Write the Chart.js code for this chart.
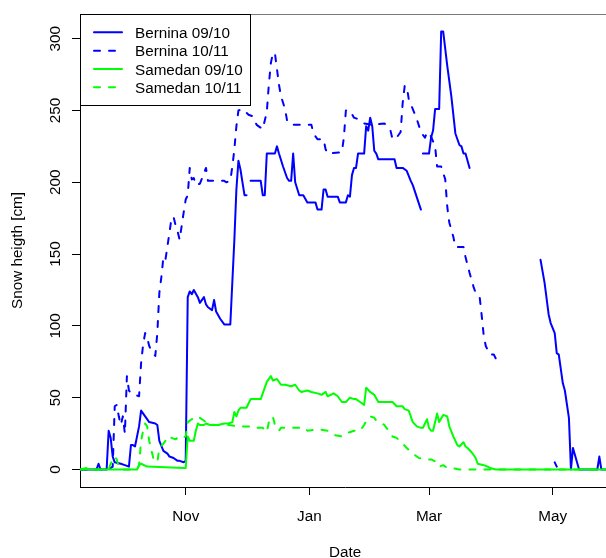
<!DOCTYPE html>
<html><head><meta charset="utf-8">
<script src="https://cdn.jsdelivr.net/npm/chart.js@4"></script>
<style>html,body{margin:0;padding:0;overflow:hidden;background:#fff}#wrap{width:610px;height:558px}</style>
</head><body><div id="wrap"><canvas id="c" width="610" height="558"></canvas></div>
<script>
// x values are days since 1 September of the season
const seriesLabels = ['Bernina 09/10', 'Bernina 10/11', 'Samedan 09/10', 'Samedan 10/11'];
const tickDays = [61, 122, 181, 242];
const tickLabels = ['Nov', 'Jan', 'Mar', 'May'];
const yTicks = [0, 50, 100, 150, 200, 250, 300];

const bernina0910Days = [9,17,18,19,22,23,24,25,26,29,31,33,34,35,36,38,39,41,43,46,47,48,50,52,53,55,57,58,60,61,62,63,64,65,67,68,70,71,72,74,75,76,78,80,83,85,86,87,88,89,90,91,92,93,98,99,100,101,105,106,107,109,111,112,113,114,115,117,119,121,125,126,128,129,130,131,136,137,140,141,142,143,144,145,146,149,150,151,152,153,154,155,156,164,165,168,170,172,173,177,177.5,178,181,182,183,184,186,187,188,190,192,194,196,197,198,199,201,202,236,238,240,241,243,244,245,247,248,250,251,252,255,264,265,266,271];
const bernina0910Vals = [0,0,4,0,0,27,22,9,5,4,3,2,17,17,16,30,41,37,33,32,31,20,13,11,9,8,6,6,5,6,120,124,122,125,120,116,120,115,113,111,118,110,105,101,101,160,195,215,209,200,191,191,null,201,201,191,191,220,220,225,220,211,203,201,201,220,200,191,191,186,186,181,181,195,195,190,190,186,186,191,190,205,210,210,220,220,239,236,245,239,222,220,216,216,210,210,208,201,198,181,null,220,220,231,236,251,251,305,305,281,260,234,226,225,220,220,210,null,146,130,108,102,95,81,80,60,55,36,0,15,0,0,9,0,0];

const bernina1011Days = [9,23,25,26,27,28,29,30,31,32,33,34,38,39,40,41,42,43,44,46,47,48,49,50,51,53,54,55,56,57,58,60,61,62,63,64,65,66,68,71,72,80,81,83,84,85,86,87,89,92,94,96,99,101,102,103,104,105,106,107,108,110,111,113,123,124,126,129,130,131,138,139,140,142,144,146,149,153,159,162,163,165,167,168,169,170,171,173,175,177,179,180,182,184,185,187,189,190,191,193,194,198,199,201,203,204,206,207,208,209,211,213,214,215,243,244];
const bernina1011Vals = [0,0,2,44,45,37,31,37,25,65,55,53,51,74,87,95,92,86,83,79,95,123,134,148,146,165,175,176,170,166,160,179,188,191,210,202,203,198,199,210,201,201,200,201,211,223,239,250,251,247,246,240,237,249,268,283,290,290,279,268,260,251,243,240,240,234,230,230,223,220,221,231,250,250,245,244,241,240,241,236,230,231,235,255,267,267,258,251,244,235,231,235,232,225,211,211,202,183,172,162,155,155,148,137,127,123,120,107,93,86,80,80,77,null,5,2];

const samedan0910Days = [9,12,13,37,38,39,42,60,61,62,63,65,66,67,68,70,71,73,77,80,82,84,85,86,87,88,91,93,98,101,103,104,106,108,110,113,115,117,118,121,123,126,128,130,131,134,136,138,140,142,144,145,147,149,150,152,154,156,163,165,168,169,171,173,175,177,178,180,181,182,183,185,186,188,190,191,193,195,196,198,199,200,202,204,205,208,210,211,214,271];
const samedan0910Vals = [0,1,0,0,3,4,2,1,1,23,20,20,27,32,31,31,32,31,31,32,32,33,40,37,41,43,43,49,49,61,65,62,63,59,59,58,59,55,54,55,54,53,52,54,51,53,51,47,47,50,49,49,47,45,57,54,52,47,47,44,44,42,41,33,30,29,29,35,29,27,27,39,33,38,37,30,23,17,16,19,16,15,12,8,4,3,2,1,0,0];

const samedan1011Days = [9,23,24,26,27,28,29,37,38,39,40,41,42,43,44,45,46,47,48,50,51,52,54,56,58,59,61,62,64,66,67,69,71,75,82,87,94,95,99,101,102,104,105,107,108,120,121,126,131,134,138,140,144,147,149,150,152,154,155,159,161,163,165,168,170,173,176,179,182,185,186,188,190,192,196,271];
const samedan1011Vals = [0,0,4,9,7,2,0,0,3,20,27,32,30,20,14,8,6,5,15,18,20,23,22,21,23,22,23,33,35,36,37,35,33,31,31,30,30,29,29,26,33,37,31,27,29,29,27,28,27,24,23,25,27,27,31,34,37,36,34,31,27,23,22,18,15,11,8,7,7,5,2,3,1,1,0,0];

const toPoints = (d, v) => d.map((x, i) => ({ x: x, y: v[i] }));
const FONT = '15.25px "Liberation Sans", Arial, sans-serif';

const rPlot = {
  id: 'rPlot',
  afterDraw(chart) {
    const ctx = chart.ctx, ca = chart.chartArea;
    const xs = chart.scales.x, ys = chart.scales.y;
    ctx.save();
    // top border of the box
    ctx.fillStyle = '#7a7a7a';
    ctx.fillRect(ca.left, ca.top, ca.right - ca.left, 1);
    ctx.fillStyle = '#000';
    ctx.font = FONT;
    // x tick labels
    ctx.textAlign = 'center';
    ctx.textBaseline = 'alphabetic';
    tickDays.forEach((d, i) => ctx.fillText(tickLabels[i], xs.getPixelForValue(d), 520.5));
    // x title
    ctx.fillText('Date', (ca.left + ca.right) / 2, 556.5);
    // y tick labels (rotated)
    yTicks.forEach(v => {
      ctx.save();
      ctx.translate(60, ys.getPixelForValue(v));
      ctx.rotate(-Math.PI / 2);
      ctx.fillText(String(v), 0, 0);
      ctx.restore();
    });
    // y title
    ctx.save();
    ctx.translate(22, (ca.top + ca.bottom) / 2);
    ctx.rotate(-Math.PI / 2);
    ctx.fillText('Snow heigth [cm]', 0, 0);
    ctx.restore();
    // legend
    const lx = ca.left, ly = ca.top, lw = 170, lh = 91;
    ctx.fillStyle = '#fff';
    ctx.fillRect(lx, ly, lw, lh);
    ctx.strokeStyle = '#000';
    ctx.lineWidth = 1;
    ctx.strokeRect(lx + 0.5, ly + 0.5, lw, lh);
    const rows = [32.3, 50.7, 69, 87.3];
    chart.data.datasets.forEach((ds, i) => {
      const y = rows[i];
      ctx.beginPath();
      ctx.strokeStyle = ds.borderColor;
      ctx.lineWidth = 2;
      ctx.lineCap = 'round';
      ctx.setLineDash(ds.borderDash || []);
      ctx.moveTo(94, y);
      ctx.lineTo(122, y);
      ctx.stroke();
      ctx.setLineDash([]);
      ctx.fillStyle = '#000';
      ctx.textAlign = 'left';
      ctx.fillText(ds.label, 135, y + 5.5);
    });
    ctx.restore();
  }
};

const mk = (label, d, v, color, dashed, order) => ({
  label: label,
  data: toPoints(d, v),
  borderColor: color,
  borderWidth: 2,
  borderDash: dashed ? [6, 9] : [],
  borderCapStyle: 'round',
  borderJoinStyle: 'round',
  pointRadius: 0,
  tension: 0,
  spanGaps: false,
  fill: false,
  order: order
});

new Chart(document.getElementById('c'), {
  type: 'line',
  data: {
    datasets: [
      mk(seriesLabels[0], bernina0910Days, bernina0910Vals, '#0000ff', false, 4),
      mk(seriesLabels[1], bernina1011Days, bernina1011Vals, '#0000ff', true, 3),
      mk(seriesLabels[2], samedan0910Days, samedan0910Vals, '#00ff00', false, 2),
      mk(seriesLabels[3], samedan1011Days, samedan1011Vals, '#00ff00', true, 1)
    ]
  },
  options: {
    responsive: false,
    animation: false,
    layout: { padding: { top: 14, left: 0, right: 0, bottom: 0 } },
    plugins: { legend: { display: false }, tooltip: { enabled: false } },
    scales: {
      x: {
        type: 'linear', min: 8.87, max: 270.26,
        afterFit: s => { s.height = 71; },
        afterBuildTicks: s => { s.ticks = tickDays.map(v => ({ value: v })); },
        ticks: { display: false },
        grid: { drawOnChartArea: false, drawTicks: true, tickLength: 8, color: '#000', lineWidth: 1 },
        border: { display: true, color: '#000', width: 1 }
      },
      y: {
        type: 'linear', min: -12.2, max: 317.2,
        afterFit: s => { s.width = 80; },
        afterBuildTicks: s => { s.ticks = yTicks.map(v => ({ value: v })); },
        ticks: { display: false },
        grid: { drawOnChartArea: false, drawTicks: true, tickLength: 8, color: '#000', lineWidth: 1 },
        border: { display: true, color: '#000', width: 1 }
      }
    }
  },
  plugins: [rPlot]
});
</script>
</body></html>
